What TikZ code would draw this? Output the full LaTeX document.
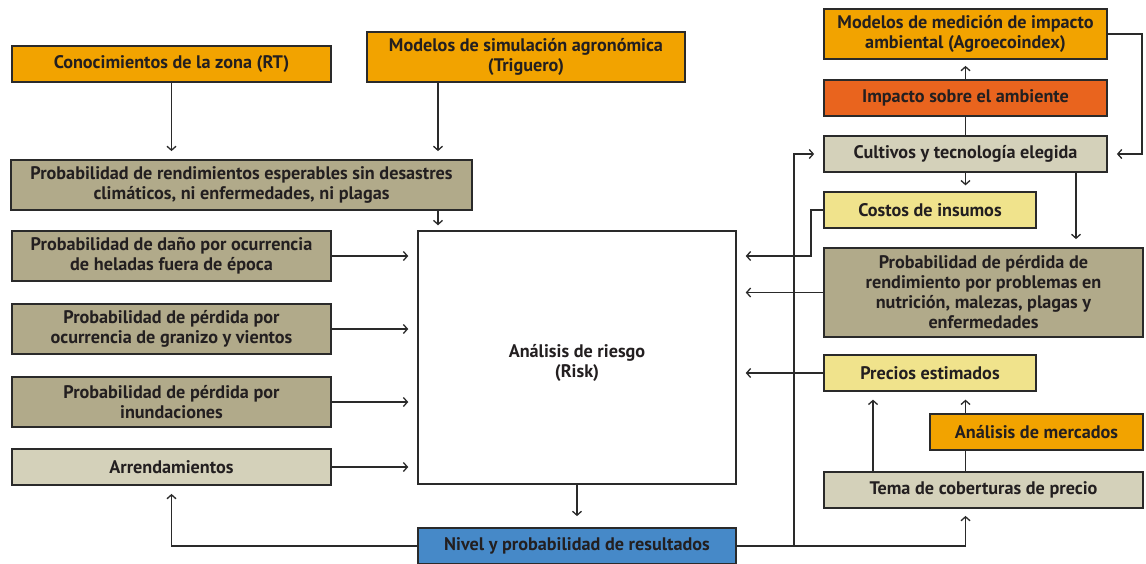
\documentclass[tikz,border=0pt]{standalone}
\usepackage{fontspec}
\setmainfont{PT Sans}
\usetikzlibrary{arrows.meta,calc}
\definecolor{cOrange}{HTML}{F2A300}
\definecolor{cKhaki}{HTML}{B1AA8A}
\definecolor{cLight}{HTML}{D4D1BA}
\definecolor{cYellow}{HTML}{F0E38C}
\definecolor{cRed}{HTML}{E9641E}
\definecolor{cBlue}{HTML}{4689C8}
\definecolor{cText}{HTML}{231F20}
\definecolor{cLine}{HTML}{2A2A2A}
\tikzset{
  txt/.style={text=cText, font=\fontsize{18.2}{20}\selectfont\bfseries, align=center},
  box/.style={txt, draw=cLine, line width=1.8pt, inner sep=0pt},
  arr/.style={draw=cLine, line width=1.3pt,
    -{Straight Barb[length=4pt,width=9pt,line width=1.3pt]}},
  ln/.style={draw=cLine, line width=1.3pt},
}
\begin{document}
\begin{tikzpicture}[x=1pt,y=-1pt]
\useasboundingbox (0,0) rectangle (1146,563);
\fill[white] (0,0) rectangle (1146,563);
% left column
\node[box, fill=cOrange, minimum width=319pt, minimum height=36pt] (conoc) at (171.5,64) {Conocimientos de la zona (RT)};
\node[box, fill=cOrange, minimum width=318pt, minimum height=50pt] (modsim) at (526,57) {Modelos de simulación agronómica\\(Triguero)};
\node[box, fill=cKhaki, minimum width=461pt, minimum height=50pt] (rend) at (241.5,185) {Probabilidad de rendimientos esperables sin desastres\\climáticos, ni enfermedades, ni plagas};
\node[box, fill=cKhaki, minimum width=319pt, minimum height=50pt] (helad) at (171.5,256) {Probabilidad de daño por ocurrencia\\de heladas fuera de época};
\node[box, fill=cKhaki, minimum width=319pt, minimum height=50pt] (graniz) at (171.5,329) {Probabilidad de pérdida por\\ocurrencia de granizo y vientos};
\node[box, fill=cKhaki, minimum width=319pt, minimum height=50pt] (inund) at (171.5,402) {Probabilidad de pérdida por\\inundaciones};
\node[box, fill=cLight, minimum width=319pt, minimum height=36pt] (arrend) at (171.5,467) {Arrendamientos};
% center
\node[box, fill=white, line width=1.5pt, minimum width=318pt, minimum height=253pt] (risk) at (577,357.5) {};
\node[txt] (risktxt) at (577,363) {Análisis de riesgo\\(Risk)};
\node[box, fill=cBlue, minimum width=318pt, minimum height=36pt] (nivel) at (577,546) {Nivel y probabilidad de resultados};
% right column
\node[box, fill=cOrange, minimum width=283pt, minimum height=50pt] (medic) at (965.5,34) {Modelos de medición de impacto\\ambiental (Agroecoindex)};
\node[box, fill=cRed, minimum width=283pt, minimum height=36pt] (impac) at (965.5,98) {Impacto sobre el ambiente};
\node[box, fill=cLight, minimum width=283pt, minimum height=36pt] (cultiv) at (965.5,154) {Cultivos y tecnología elegida};
\node[box, fill=cYellow, line width=1.3pt, minimum width=212pt, minimum height=36pt] (costos) at (930,210) {Costos de insumos};
\node[box, fill=cKhaki, minimum width=319pt, minimum height=89pt] (probr) at (983.5,292.5) {Probabilidad de pérdida de\\rendimiento por problemas en\\nutrición, malezas, plagas y\\enfermedades};
\node[box, fill=cYellow, line width=1.3pt, minimum width=212pt, minimum height=36pt] (precios) at (930,373) {Precios estimados};
\node[box, fill=cOrange, line width=1.3pt, minimum width=213pt, minimum height=36pt] (merc) at (1036.5,432) {Análisis de mercados};
\node[box, fill=cLight, minimum width=319pt, minimum height=36pt] (tema) at (983.5,490) {Tema de coberturas de precio};
% helper coordinates
\coordinate (xA) at (438,0);
\coordinate (xV) at (794,0);
\coordinate (xC) at (811,0);
\coordinate (yC) at (0,256);
\coordinate (xT) at (873,0);
\coordinate (xP) at (1076,0);
\coordinate (xR) at (1142,0);
% arrows left
\draw[arr, shorten >=8pt] (conoc.south) -- (conoc.south |- rend.north);
\draw[arr, shorten >=8pt] (modsim.south -| xA) -- (rend.north -| xA);
\draw[arr, shorten >=5pt] (rend.south -| xA) -- (risk.north -| xA);
\draw[arr, shorten >=9pt] (helad.east) -- (helad.east -| risk.west);
\draw[arr, shorten >=9pt] (graniz.east) -- (graniz.east -| risk.west);
\draw[arr, shorten >=9pt] (inund.east) -- (inund.east -| risk.west);
\draw[arr, shorten >=9pt] (arrend.east) -- (arrend.east -| risk.west);
\draw[arr, shorten >=11pt] (risk.south) -- (nivel.north);
\draw[arr, shorten >=8pt] (nivel.west) -| (arrend.south);
\draw[arr, shorten >=7pt] (nivel.east) -| (tema.south -| cultiv.south);
\draw[arr, shorten >=9pt] (nivel.east -| xV) -- (cultiv.west -| xV) -- (cultiv.west);
% arrows right
\draw[arr, shorten >=9pt] (costos.west) -- (costos.west -| xC) -- (xC |- yC) -- (risk.east |- yC);
\draw[arr, shorten >=9pt] (probr.west) -- (probr.west -| risk.east);
\draw[arr, shorten >=9pt] (precios.west) -- (precios.west -| risk.east);
\draw[arr, shorten >=8pt] (tema.north -| xT) -- (precios.south -| xT);
\draw[ln] (tema.north -| cultiv.south) -- (merc.south -| cultiv.south);
\draw[arr, shorten >=8pt] (merc.north -| cultiv.south) -- (precios.south -| cultiv.south);
\draw[arr, shorten >=6pt] (cultiv.south) -- (costos.north -| cultiv.south);
\draw[arr, shorten >=8pt] (cultiv.south -| xP) -- (probr.north -| xP);
\draw[ln] (cultiv.north) -- (impac.south);
\draw[arr, shorten >=6pt] (impac.north) -- (medic.south);
\draw[arr, shorten >=9pt] (medic.east) -- (medic.east -| xR) -- (cultiv.east -| xR) -- (cultiv.east);
\end{tikzpicture}
\end{document}
